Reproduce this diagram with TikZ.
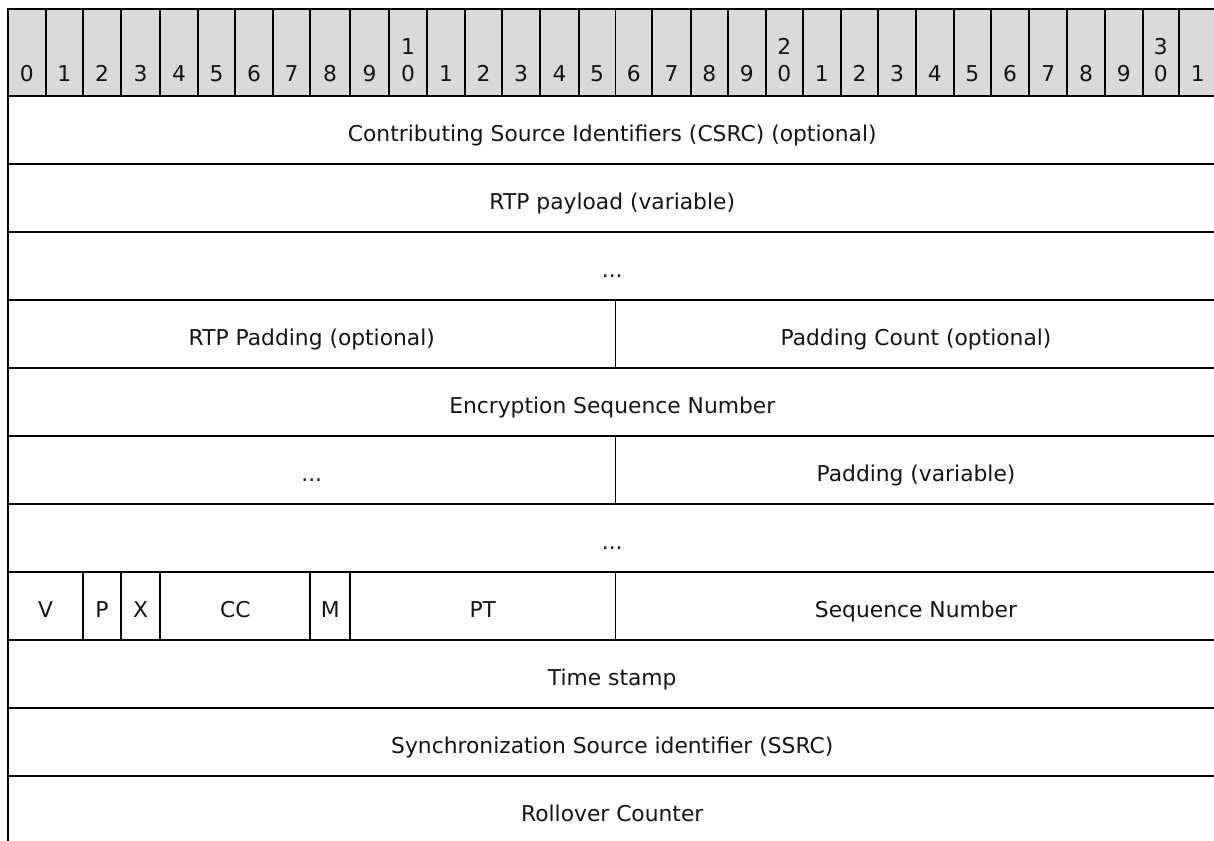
\documentclass[tikz,border=0pt]{standalone}
\usepackage{fontspec}
\setmainfont{DejaVu Sans}
\usetikzlibrary{calc}
\definecolor{hdrgray}{RGB}{217,217,217}
\definecolor{txt}{RGB}{20,20,20}
\newcommand\fieldfont{\fontsize{21.8}{26}\selectfont}
\tikzset{
  gridline/.style={draw=black,line width=1.8pt},
  hdrcell/.style={fill=hdrgray,draw=black,line width=1.8pt},
  fieldtext/.style={text=txt,font=\fieldfont,inner sep=0pt,anchor=base},
  digit/.style={text=txt,font=\fieldfont,inner sep=0pt,anchor=base}
}
\newcommand\fld[6]{%
  \draw[gridline] (c#3 |- y#1) rectangle (c#4 |- y#2);
  \node[fieldtext] (#5) at ($($(c#3 |- y#1)!0.5!(c#4 |- y#2)$)+(0,-11.5pt)$) {#6};}
\begin{document}
\begin{tikzpicture}[x=1pt,y=1pt]
\useasboundingbox (0,0) rectangle (1214,-840);
% column edges
\foreach \i/\x in {0/8,1/45.7,2/83,3/121,4/160.3,5/197.7,6/235.3,7/272.7,8/310.3,9/350,
  10/389.3,11/426.7,12/465.3,13/502,14/540.3,15/578.7,16/615.5,17/652.3,18/690.7,19/728,
  20/765.7,21/802.7,22/841,23/878,24/916,25/953.7,26/991,27/1029.3,28/1067.3,29/1104.7,
  30/1142.7,31/1179,32/1216.5}
  \coordinate (c\i) at (\x,0);
% row edges
\foreach \k/\y in {0/9,1/96,2/164,3/232,4/300,5/368,6/436,7/504,8/572,9/640,10/708,11/776,12/844}
  \coordinate (y\k) at (0,-\y);
\coordinate (hb) at (0,-82);
\coordinate (ht) at (0,-55);
% header
\foreach \i in {0,...,31}{
  \pgfmathtruncatemacro\j{\i+1}
  \pgfmathtruncatemacro\lo{mod(\i,10)}
  \pgfmathtruncatemacro\hi{int(\i/10)}
  \draw[hdrcell] (c\i |- y0) rectangle (c\j |- y1);
  \node[digit] (h\i) at ($(c\i |- hb)!0.5!(c\j |- hb)$) {\lo};
  \ifnum\lo=0 \ifnum\i>0
    \node[digit] (hh\i) at ($(c\i |- ht)!0.5!(c\j |- ht)$) {\hi};
  \fi\fi
}
% fields
\fld{1}{2}{0}{32}{csrc}{Contributing Source Identifiers (CSRC) (optional)}
\fld{2}{3}{0}{32}{payload}{RTP payload (variable)}
\fld{3}{4}{0}{32}{dotsA}{...}
\fld{4}{5}{0}{16}{rtppad}{RTP Padding (optional)}
\fld{4}{5}{16}{32}{padcount}{Padding Count (optional)}
\fld{5}{6}{0}{32}{esn}{Encryption Sequence Number}
\fld{6}{7}{0}{16}{dotsB}{...}
\fld{6}{7}{16}{32}{padvar}{Padding (variable)}
\fld{7}{8}{0}{32}{dotsC}{...}
\fld{8}{9}{0}{2}{fv}{V}
\fld{8}{9}{2}{3}{fp}{P}
\fld{8}{9}{3}{4}{fx}{X}
\fld{8}{9}{4}{8}{fcc}{CC}
\fld{8}{9}{8}{9}{fm}{M}
\fld{8}{9}{9}{16}{fpt}{PT}
\fld{8}{9}{16}{32}{seq}{Sequence Number}
\fld{9}{10}{0}{32}{ts}{Time stamp}
\fld{10}{11}{0}{32}{ssrc}{Synchronization Source identifier (SSRC)}
\fld{11}{12}{0}{32}{roc}{Rollover Counter}
\end{tikzpicture}
\end{document}
